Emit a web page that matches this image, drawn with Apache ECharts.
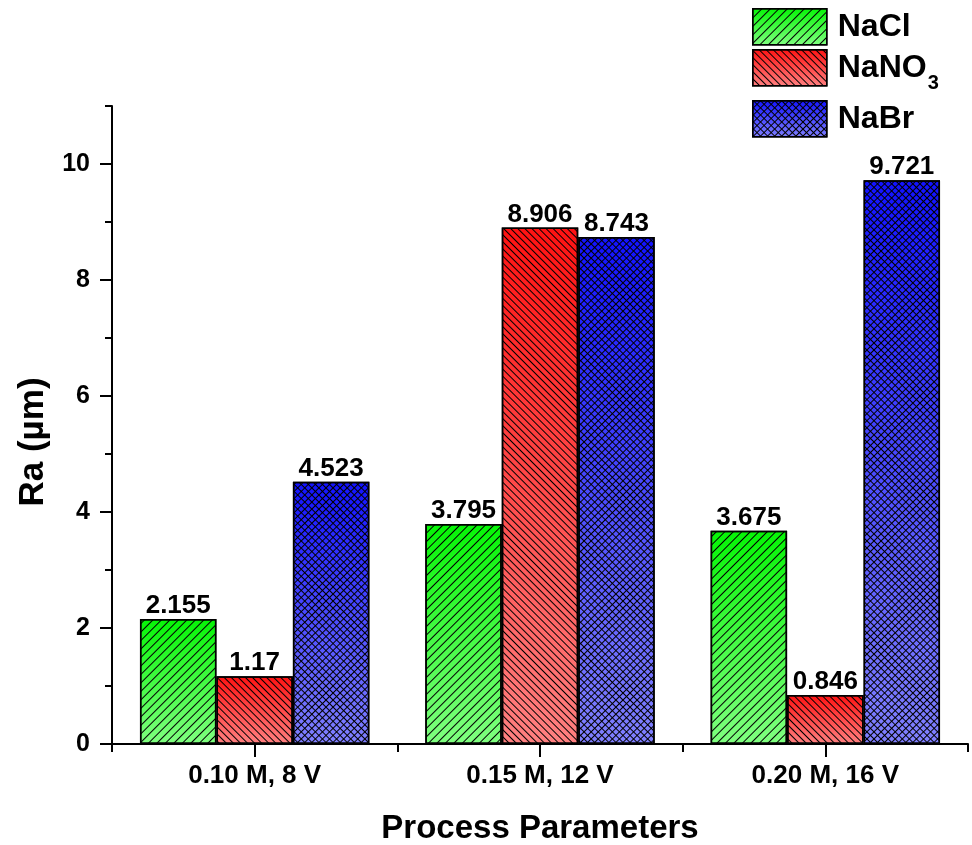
<!DOCTYPE html>
<html><head><meta charset="utf-8">
<script src="https://cdn.jsdelivr.net/npm/echarts@6/dist/echarts.min.js"></script>
<style>html,body{margin:0;padding:0;background:#fff}#c{width:972px;height:845px}</style>
</head><body><div id="c"></div>
<script>
const categories = ['0.10 M, 8 V', '0.15 M, 12 V', '0.20 M, 16 V'];
const seriesNames = ['NaCl', 'NaNO3', 'NaBr'];
const naclValues = [2.155, 3.795, 3.675];
const nano3Values = [1.17, 8.906, 0.846];
const nabrValues = [4.523, 8.743, 9.721];
const yMajorTicks = [0, 2, 4, 6, 8, 10];
const yMinorTicks = [1, 3, 5, 7, 9, 11];

const FONT = 'Liberation Sans, Arial, sans-serif';
const chart = echarts.init(document.getElementById('c'));

function grad(top, bottom) {
  return new echarts.graphic.LinearGradient(0, 0, 0, 1, [
    { offset: 0, color: top }, { offset: 1, color: bottom }
  ]);
}
const hatchColor = '#000';
const decals = [
  { symbol: 'rect', symbolSize: 1, color: hatchColor, dashArrayX: [1, 0], dashArrayY: [1, 5], rotation: -Math.PI / 4 },
  { symbol: 'rect', symbolSize: 1, color: hatchColor, dashArrayX: [1, 0], dashArrayY: [1, 4], rotation: Math.PI / 4 },
  { symbol: 'rect', symbolSize: 1, color: hatchColor, dashArrayX: [[1, 0], [1, 4], [1, 4], [1, 4], [1, 4]], dashArrayY: [1, 0], rotation: Math.PI / 4 }
];
const fills = [grad('#05f505', '#80ff80'), grad('#ff1212', '#ff8080'), grad('#1212ff', '#8080ff')];
const valueSets = [naclValues, nano3Values, nabrValues];

const labelStyle = { show: true, position: 'top', distance: 0, fontSize: 26, fontWeight: 'bold', color: '#000', fontFamily: FONT };

const series = seriesNames.map((n, i) => ({
  name: n,
  type: 'bar',
  xAxisIndex: 0, yAxisIndex: 0,
  data: valueSets[i],
  barWidth: '26.8%',
  barGap: '0%',
  itemStyle: { color: fills[i], borderColor: '#000', borderWidth: 1.5, decal: decals[i] },
  label: labelStyle,
  emphasis: { disabled: true }
}));

const legendTops = [8, 49, 100];
const legends = seriesNames.map((n, i) => ({
  data: [n],
  left: 752, top: legendTops[i],
  padding: 0,
  itemWidth: 74, itemHeight: 36,
  icon: 'rect',
  selectedMode: false,
  itemStyle: { borderColor: '#000', borderWidth: 1.5 },
  formatter: n === 'NaNO3' ? '{a|NaNO}{sub|3}' : '{a|' + n + '}',
  textStyle: {
    fontFamily: FONT, fontWeight: 'bold', color: '#000', fontSize: 32, padding: [0, 0, 0, 6],
    rich: n === 'NaNO3' ? {
      a: { fontFamily: FONT, fontWeight: 'bold', fontSize: 32, lineHeight: 32, verticalAlign: 'top', padding: [0, 0, 0, 0] },
      sub: { fontFamily: FONT, fontWeight: 'bold', fontSize: 20, lineHeight: 20, verticalAlign: 'top', padding: [22, 0, 0, 1] }
    } : {
      a: { fontFamily: FONT, fontWeight: 'bold', fontSize: 32 }
    }
  }
}));

const axisLineStyle = { color: '#000', width: 2 };

chart.setOption({
  animation: false,
  backgroundColor: '#fff',
  textStyle: { fontFamily: FONT },
  grid: { left: 112, right: 4, top: 106, bottom: 101, containLabel: false, outerBoundsMode: 'none' },
  legend: legends,
  xAxis: [{
    type: 'category', data: categories, position: 'bottom',
    axisLine: { show: true, onZero: false, lineStyle: axisLineStyle },
    axisTick: { show: true, length: 8, lineStyle: axisLineStyle },
    axisLabel: { fontSize: 26, fontWeight: 'bold', color: '#000', margin: 19, fontFamily: FONT },
    splitLine: { show: false },
    name: 'Process Parameters', nameLocation: 'middle', nameGap: 68,
    nameTextStyle: { fontSize: 33, fontWeight: 'bold', color: '#000', fontFamily: FONT }
  }, {
    type: 'category', data: categories, position: 'bottom',
    axisLine: { show: false, onZero: false },
    axisTick: { show: true, alignWithLabel: true, length: 13, lineStyle: axisLineStyle },
    axisLabel: { show: false },
    splitLine: { show: false }
  }],
  yAxis: [{
    type: 'value', min: 0, max: 11, interval: 2, position: 'left',
    axisLine: { show: true, lineStyle: axisLineStyle },
    axisTick: { show: true, length: 12, lineStyle: axisLineStyle, customValues: yMajorTicks },
    axisLabel: { fontSize: 25, fontWeight: 'bold', color: '#000', margin: 22, fontFamily: FONT, customValues: yMajorTicks },
    splitLine: { show: false },
    name: 'Ra (µm)', nameLocation: 'middle', nameGap: 59, nameRotate: 90,
    nameTextStyle: { fontSize: 35, fontWeight: 'bold', color: '#000', fontFamily: FONT, padding: [0, 34, 0, 0] }
  }, {
    type: 'value', min: 0, max: 11, interval: 1, position: 'left',
    axisLine: { show: false },
    axisTick: { show: true, length: 7, lineStyle: axisLineStyle, customValues: yMinorTicks },
    axisLabel: { show: false },
    splitLine: { show: false }
  }],
  series: series
});
</script></body></html>
